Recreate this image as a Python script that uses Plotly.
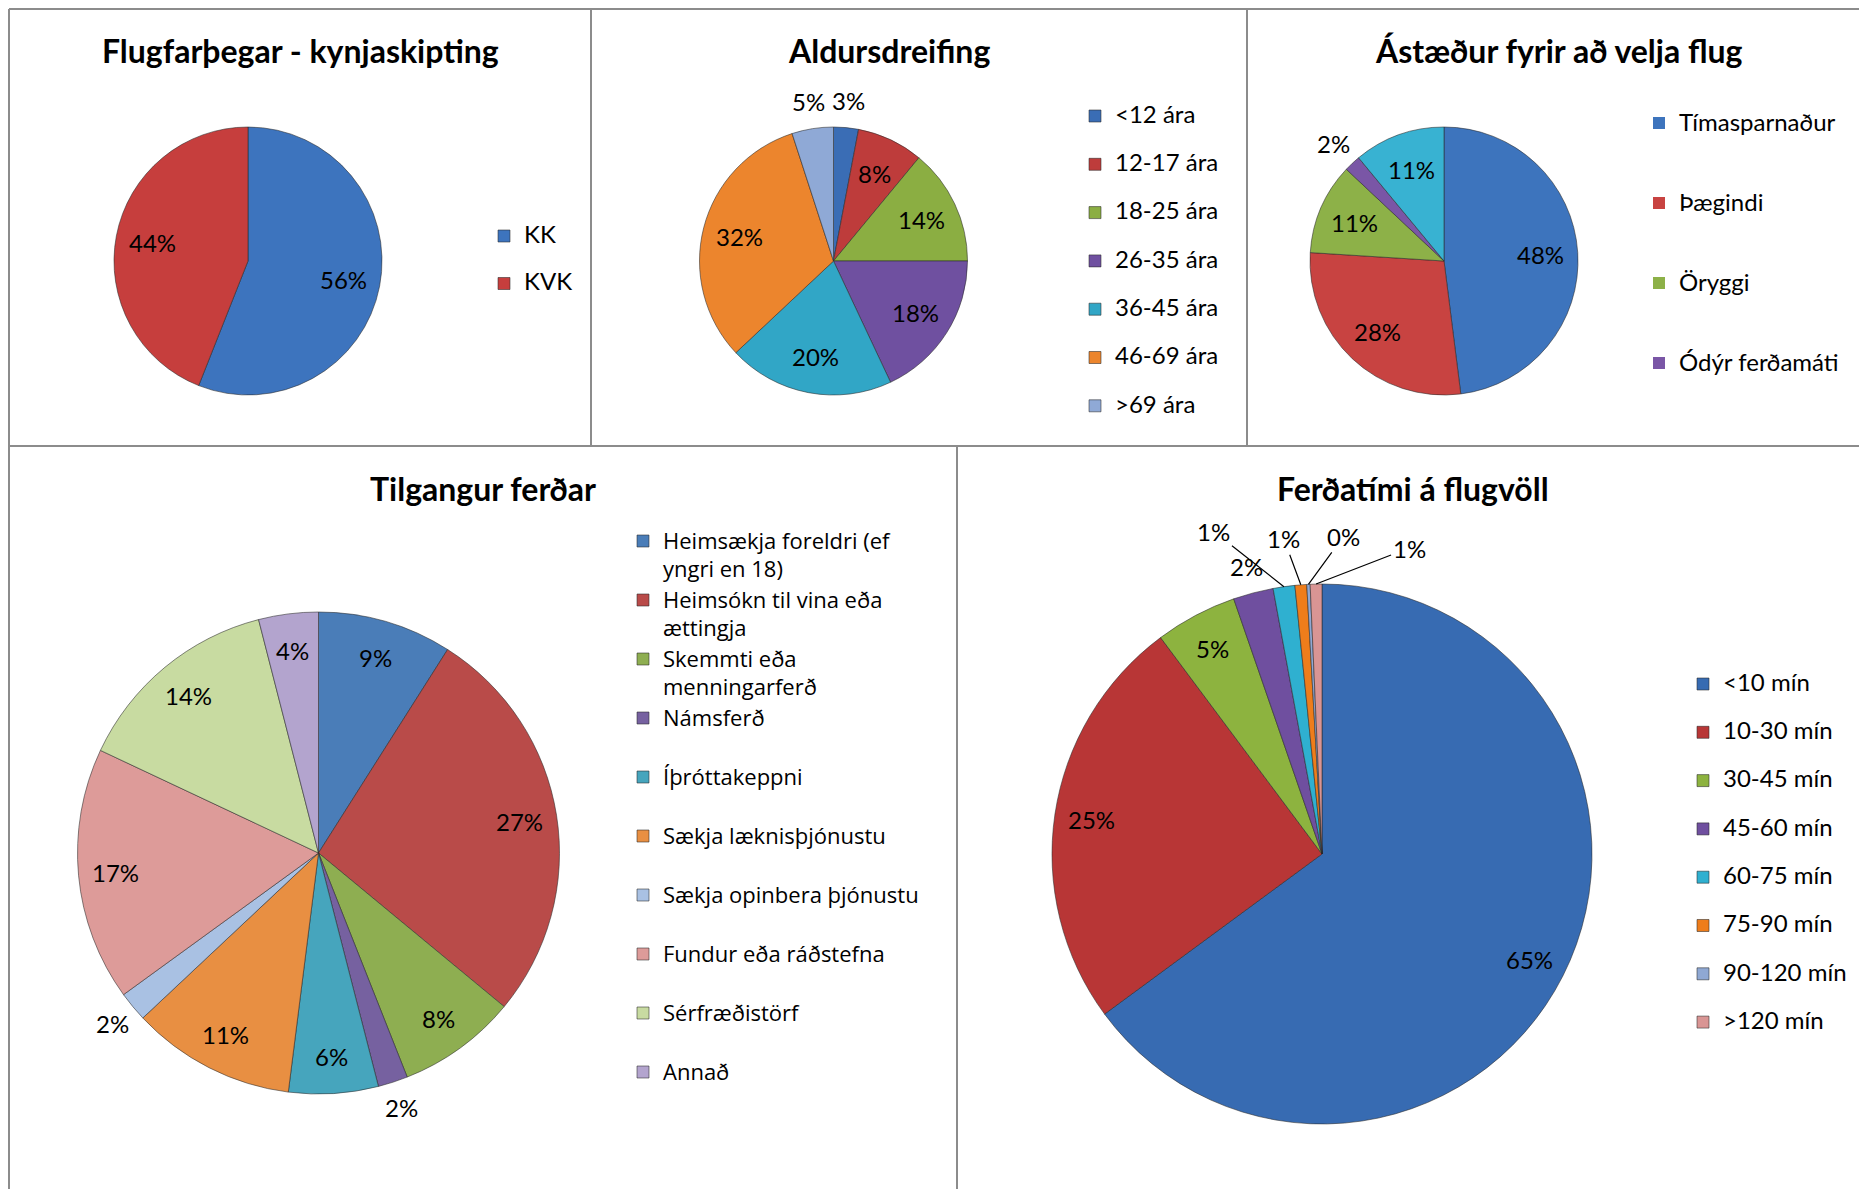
import math
import textwrap
import plotly.graph_objects as go

W, H = 1867, 1189
OFF = 8  # the page body margin that offsets the figure inside the window

# ---------------- data ----------------
gender_labels = ["KK", "KVK"]
gender_values = [56, 44]

age_labels = ["<12 ára", "12-17 ára", "18-25 ára", "26-35 ára", "36-45 ára", "46-69 ára", ">69 ára"]
age_values = [3, 8, 14, 18, 20, 32, 5]

reason_labels = ["Tímasparnaður", "Þægindi", "Öryggi", "Ódýr ferðamáti", "Annað"]
reason_values = [48, 28, 11, 2, 11]
reason_legend_count = 4  # the reference legend only shows the first four entries

purpose_labels = ["Heimsækja foreldri (ef yngri en 18)", "Heimsókn til vina eða ættingja",
                  "Skemmti eða menningarferð", "Námsferð", "Íþróttakeppni",
                  "Sækja læknisþjónustu", "Sækja opinbera þjónustu", "Fundur eða ráðstefna",
                  "Sérfræðistörf", "Annað"]
purpose_values = [9, 27, 8, 2, 6, 11, 2, 17, 14, 4]

time_labels = ["<10 mín", "10-30 mín", "30-45 mín", "45-60 mín", "60-75 mín",
               "75-90 mín", "90-120 mín", ">120 mín"]
time_values = [64.9, 24.9, 4.9, 2.4, 1.3, 0.7, 0.2, 0.7]

titles = ["Flugfarþegar - kynjaskipting", "Aldursdreifing", "Ástæður fyrir að velja flug",
          "Tilgangur ferðar", "Ferðatími á flugvöll"]

# ---------------- styles ----------------
gender_colors = ["#3D74BE", "#C63E3D"]
age_colors = ["#3A6DB5", "#BE3C3B", "#8BAE42", "#6F50A0", "#31A6C6", "#EC852D", "#8FA9D6"]
reason_colors = ["#3D74BD", "#C84341", "#8DB148", "#7A56A6", "#38B2D2"]
purpose_colors = ["#4A7DB8", "#B94B49", "#8EAE51", "#7661A0", "#46A5BD", "#E88F42",
                  "#A9C1E3", "#DD9B99", "#C8DBA1", "#B3A4CE"]
time_colors = ["#376BB2", "#B83636", "#8DB33F", "#6F4F9F", "#2FB0D0", "#EE7D1B",
               "#8FA8D3", "#D99594"]

LABEL_FONT = dict(family="Lato", size=24, color="black")
TITLE_FONT = dict(family="Lato", size=32, color="black", weight="bold")
EDGE = "rgba(40,40,40,0.55)"


def fx(px):
    return (px - OFF) / W


def fy(py):
    return 1 - (py - OFF) / H


def dom(cx, cy, r):
    return dict(x=[fx(cx - r), fx(cx + r)], y=[fy(cy + r), fy(cy - r)])


def legend_cfg(sym_x, sym_y0, step, lines, family):
    base = (step - 3) / (1.3 * lines)
    lh = 1.3 * base
    top = sym_y0 - 5 - step / 2 + 0.5 * (lines - 1) * lh
    return dict(x=fx(sym_x - 20), xanchor="left", y=fy(top), yanchor="top",
                valign="top", font=dict(family=family, size=base, color="black"),
                bgcolor="rgba(0,0,0,0)", borderwidth=0, traceorder="normal")


def legend_text(names, size, lines, wrap=None):
    out = []
    for n in names:
        parts = textwrap.wrap(n, wrap) if wrap else [n]
        parts = parts + [" "] * (lines - len(parts))
        out.append("<br>".join(f"<span style='font-size:{size}px'>{p}</span>" for p in parts))
    return out


def pie(labels, values, colors, geom, legend, showlegend=True):
    return go.Pie(labels=labels, values=values, sort=False, direction="clockwise", rotation=0,
                  domain=dom(*geom), marker=dict(colors=colors, line=dict(color=EDGE, width=1)),
                  textinfo="none", textposition="none",
                  legend=legend, showlegend=showlegend, hoverinfo="label+percent")


def add_pct_labels(fig, values, geom, modes):
    """Percent labels placed along each slice's bisector (inside near the rim,
    outside just past it, or with a leader line for the tiniest slices)."""
    cx, cy, r = geom
    total = sum(values)
    cum = 0
    for v, mode in zip(values, modes):
        ang = math.radians(360 * (cum + v / 2) / total)
        s, c = math.sin(ang), -math.cos(ang)
        txt = f"{round(100 * v / total)}%"
        common = dict(xref="paper", yref="paper", text=txt, font=LABEL_FONT,
                      xanchor="center", yanchor="middle")
        if mode in ("in", "out"):
            d = r - 37 if mode == "in" else r + 27
            fig.add_annotation(x=fx(cx + d * s), y=fy(cy + d * c), showarrow=False, **common)
        else:
            ax, ay = mode
            fig.add_annotation(x=fx(cx + r * s), y=fy(cy + r * c), showarrow=True,
                               arrowhead=0, arrowwidth=1.2, arrowcolor="black",
                               ax=ax, ay=ay, standoff=0, **common)
        cum += v


G1 = (248, 261, 134)
G2 = (833.5, 261, 134)
G3 = (1444, 261, 134)
G4 = (318.5, 853, 241)
G5 = (1322, 854, 270)

fig = go.Figure()

# 1. gender
fig.add_trace(pie(legend_text(gender_labels, 24, 2), gender_values, gender_colors, G1, "legend"))
add_pct_labels(fig, gender_values, G1, ["in", "in"])

# 2. age
fig.add_trace(pie(legend_text(age_labels, 24, 2), age_values, age_colors, G2, "legend2"))
add_pct_labels(fig, age_values, G2, ["out", "in", "in", "in", "in", "in", "out"])

# 3. reasons (legend shows only the first entries, drawn from a legend-only copy)
fig.add_trace(pie(reason_labels, reason_values, reason_colors, G3, "legend3", showlegend=False))
k = reason_legend_count
legend_only = pie(legend_text(reason_labels[:k], 24, 3), reason_values[:k], reason_colors[:k],
                  (G3[0], G3[1], 0.2), "legend3")
legend_only.update(hoverinfo="skip", marker_line_width=0)
fig.add_trace(legend_only)
add_pct_labels(fig, reason_values, G3, ["in", "in", "in", "out", "in"])

# 4. purpose
fig.add_trace(pie(legend_text(purpose_labels, 22, 2, wrap=23), purpose_values, purpose_colors,
                  G4, "legend4"))
add_pct_labels(fig, purpose_values, G4,
               ["in", "in", "in", "out", "in", "in", "out", "in", "in", "in"])

# 5. travel time to airport
fig.add_trace(pie(legend_text(time_labels, 24, 2), time_values, time_colors, G5, "legend5"))
add_pct_labels(fig, time_values, G5,
               ["in", "in", "in", "out", (-70, -55), (-17, -46), (35, -48), (93, -36)])

# titles
title_pos = [(300, 50), (889, 50), (1559, 50), (483, 488), (1413, 488)]
for t, (tx, ty) in zip(titles, title_pos):
    fig.add_annotation(x=fx(tx), y=fy(ty), xref="paper", yref="paper", text=t,
                       showarrow=False, font=TITLE_FONT, xanchor="center", yanchor="middle")

# panel borders
border = dict(color="#8C8C8C", width=2)
seg = [(9, 9, W + OFF, 9), (9, 9, 9, H + OFF), (9, 446, W + OFF, 446), (591, 9, 591, 446),
       (1247, 9, 1247, 446), (957, 446, 957, H + OFF)]
for x0, y0, x1, y1 in seg:
    fig.add_shape(type="line", xref="paper", yref="paper", x0=fx(x0), x1=fx(x1),
                  y0=fy(y0), y1=fy(y1), line=border)

fig.update_layout(
    width=W, height=H, margin=dict(l=0, r=0, t=0, b=0),
    paper_bgcolor="white", plot_bgcolor="white",
    legend=legend_cfg(504, 236, 47.5, 2, "Lato"),
    legend2=legend_cfg(1095, 116, 48.3, 2, "Lato"),
    legend3=legend_cfg(1659, 123, 80, 3, "Lato"),
    legend4=legend_cfg(643, 541, 59, 2, "Open Sans"),
    legend5=legend_cfg(1703, 684, 48.3, 2, "Lato"),
)

fig.write_html("out.html")
